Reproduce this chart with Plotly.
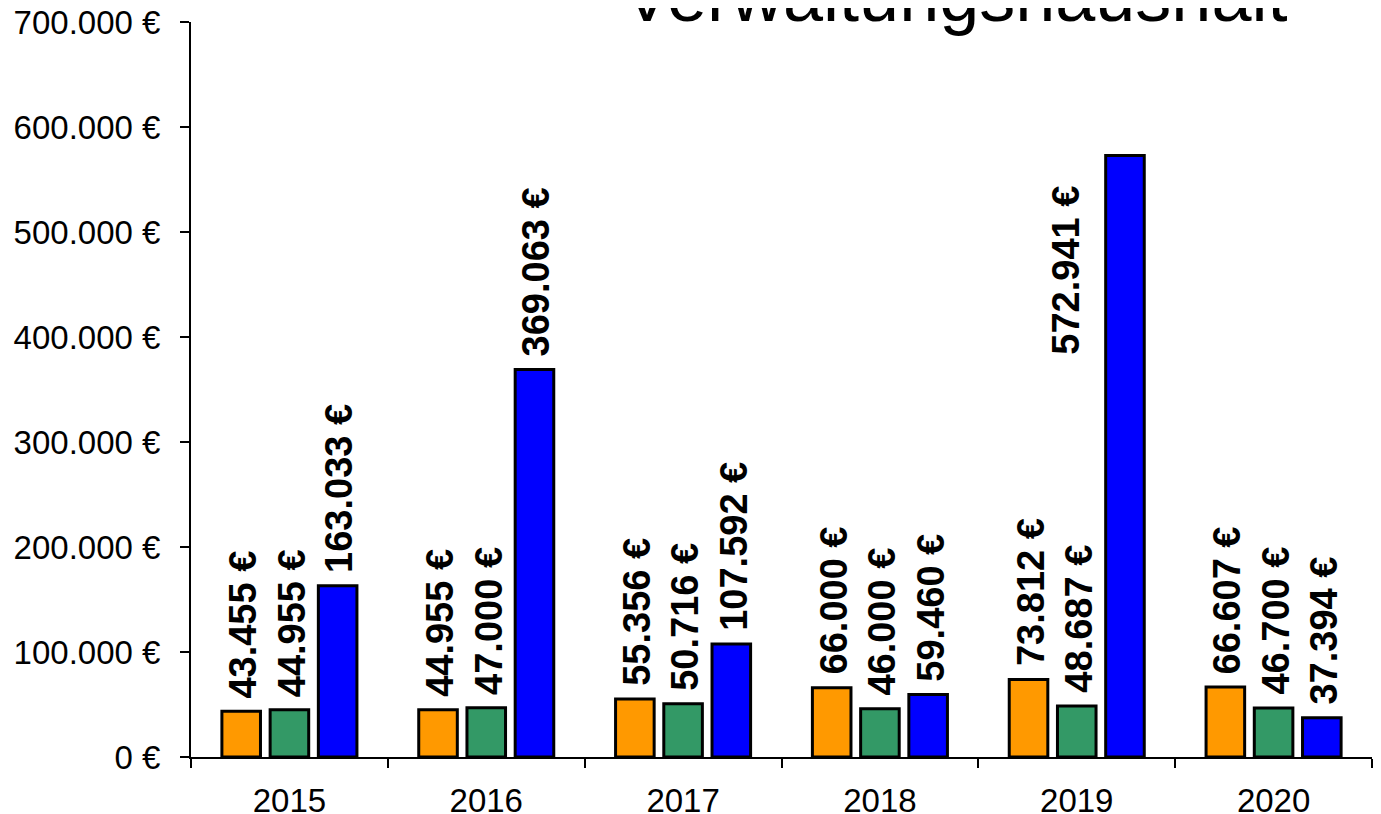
import plotly.graph_objects as go

categories = ["2015", "2016", "2017", "2018", "2019", "2020"]
series_orange = [43455, 44955, 55356, 66000, 73812, 66607]
series_green = [44955, 47000, 50716, 46000, 48687, 46700]
series_blue = [163033, 369063, 107592, 59460, 572941, 37394]
ytick_vals = [0, 100000, 200000, 300000, 400000, 500000, 600000, 700000]
ytick_text = ["0 €", "100.000 €", "200.000 €", "300.000 €", "400.000 €",
              "500.000 €", "600.000 €", "700.000 €"]
title_text = "Verwaltungshaushalt"

colors = ["#FF9900", "#339966", "#0000FF"]
series = [series_orange, series_green, series_blue]
FONT = "Liberation Sans, Arial, sans-serif"


def fmt(v):
    return f"{v:,}".replace(",", ".") + " €"


fig = go.Figure()
for vals, col in zip(series, colors):
    fig.add_trace(go.Bar(
        x=categories, y=vals,
        marker=dict(color=col, line=dict(color="black", width=3)),
        showlegend=False,
    ))

slot = 48.2
annotations = []
for si, vals in enumerate(series):
    for ci, v in enumerate(vals):
        if si == 2 and categories[ci] == "2019":
            annotations.append(dict(
                x=ci, y=v, xref="x", yref="y", text="<b>" + fmt(v) + "</b>",
                textangle=-90, showarrow=False, xanchor="center", yanchor="top",
                xshift=-11, yshift=-28,
                font=dict(family=FONT, size=38, color="black")))
        else:
            annotations.append(dict(
                x=ci, y=v, xref="x", yref="y", text="<b>" + fmt(v) + "</b>",
                textangle=-90, showarrow=False, xanchor="center", yanchor="bottom",
                xshift=(si - 1) * slot + 2, yshift=11,
                font=dict(family=FONT, size=38, color="black")))

annotations.append(dict(
    x=0.647, y=0.978, xref="paper", yref="paper", text=title_text,
    showarrow=False, xanchor="center", yanchor="bottom",
    font=dict(family=FONT, size=72, color="black")))

fig.update_layout(
    width=1381, height=814,
    margin=dict(l=183, r=17, t=14, b=65, pad=0),
    paper_bgcolor="white", plot_bgcolor="white",
    barmode="group", bargap=0.265, bargroupgap=0.2,
    font=dict(family=FONT, color="black"),
    annotations=annotations,
    xaxis=dict(
        type="category", range=[-0.5, len(categories) - 0.5], autorange=False,
        automargin=False, tickangle=0, ticklabeloverflow="allow",
        showline=True, linecolor="black", linewidth=2,
        ticks="outside", ticklen=9, tickwidth=2, tickcolor="black",
        tickson="boundaries", showgrid=False, zeroline=False,
        tickfont=dict(family=FONT, size=33, color="black"),
        ticklabelstandoff=13,
    ),
    yaxis=dict(
        range=[0, 700000], autorange=False, automargin=False,
        ticklabeloverflow="allow",
        tickvals=ytick_vals, ticktext=ytick_text,
        showline=True, linecolor="black", linewidth=2,
        ticks="outside", ticklen=9, tickwidth=2, tickcolor="black",
        showgrid=False, zeroline=False,
        tickfont=dict(family=FONT, size=33, color="black"),
        ticklabelstandoff=13,
    ),
)

fig.write_html("out.html")
